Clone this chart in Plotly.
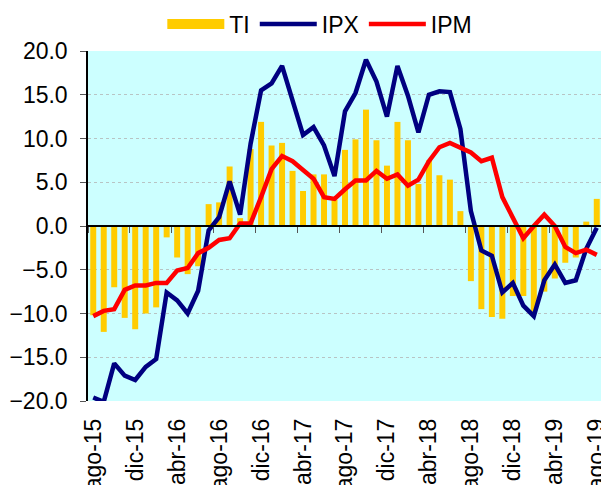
import plotly.graph_objects as go

months = [
    "ago-15", "sep-15", "oct-15", "nov-15", "dic-15", "ene-16", "feb-16", "mar-16",
    "abr-16", "may-16", "jun-16", "jul-16", "ago-16", "sep-16", "oct-16", "nov-16",
    "dic-16", "ene-17", "feb-17", "mar-17", "abr-17", "may-17", "jun-17", "jul-17",
    "ago-17", "sep-17", "oct-17", "nov-17", "dic-17", "ene-18", "feb-18", "mar-18",
    "abr-18", "may-18", "jun-18", "jul-18", "ago-18", "sep-18", "oct-18", "nov-18",
    "dic-18", "ene-19", "feb-19", "mar-19", "abr-19", "may-19", "jun-19", "jul-19",
    "ago-19",
]

ti = [-10.2, -12.1, -7.0, -10.5, -11.8, -10.0, -9.3, -1.3, -3.6, -5.5, -4.6, 2.5,
      2.7, 6.8, 0.9, 8.8, 11.9, 9.2, 9.5, 6.3, 4.0, 5.9, 5.9, 3.0,
      8.7, 9.9, 13.3, 9.8, 6.9, 11.9, 9.8, 4.8, 7.5, 5.8, 5.3, 1.7,
      -6.3, -9.5, -10.4, -10.6, -8.0, -8.0, -9.8, -7.5, -6.0, -4.2, -3.6, 0.5,
      3.1]

ipx = [-19.6, -20.1, -15.7, -17.1, -17.6, -16.1, -15.2, -7.6, -8.5, -10.0, -7.4, -0.5,
       1.0, 5.1, 1.3, 9.4, 15.5, 16.3, 18.3, 14.3, 10.4, 11.3, 9.2, 5.7,
       13.1, 15.2, 19.0, 16.5, 12.5, 18.3, 14.9, 10.7, 15.0, 15.4, 15.3, 11.1,
       1.7, -2.8, -3.4, -7.6, -6.5, -9.1, -10.3, -6.2, -4.4, -6.5, -6.2, -2.6,
       -0.2]

ipm = [-10.3, -9.7, -9.5, -7.3, -6.8, -6.8, -6.5, -6.5, -5.1, -4.8, -3.1, -2.5,
       -1.6, -1.4, 0.3, 0.3, 3.3, 6.5, 8.0, 7.4, 6.4, 5.4, 3.3, 3.1,
       4.2, 5.2, 5.2, 6.3, 5.4, 5.9, 4.6, 5.3, 7.4, 9.0, 9.5, 9.0,
       8.4, 7.4, 7.8, 3.3, 1.0, -1.4, 0.0, 1.3, 0.0, -2.4, -3.1, -2.7,
       -3.3]

tick_labels = months[::4]

FONT = "Liberation Sans, Arial, sans-serif"
YELLOW = "#FFCC00"

fig = go.Figure()
# legend proxy for TI (wide flat swatch like the original)
fig.add_trace(go.Scatter(x=[None], y=[None], name="TI", mode="lines", legendgroup="ti",
                         line=dict(color=YELLOW, width=15), hoverinfo="skip"))
fig.add_trace(go.Bar(x=months, y=ti, name="TI", legendgroup="ti", showlegend=False,
                     marker=dict(color=YELLOW, line=dict(width=0))))
fig.add_trace(go.Scatter(x=months, y=ipx, name="IPX", mode="lines",
                         line=dict(color="#000080", width=4.5)))
fig.add_trace(go.Scatter(x=months, y=ipm, name="IPM", mode="lines",
                         line=dict(color="#FF0000", width=4.5)))
# invisible helper trace so the zero-line axis knows the categories
fig.add_trace(go.Scatter(x=months, y=ti, xaxis="x2", mode="lines", opacity=0,
                         line=dict(width=0), showlegend=False, hoverinfo="skip"))

fig.update_layout(
    width=609, height=485,
    margin=dict(l=80, r=15, t=43, b=92, autoexpand=False),
    paper_bgcolor="white",
    plot_bgcolor="#CCFFFF",
    font=dict(family=FONT, size=23, color="black"),
    bargap=0.43,
    showlegend=True,
    legend=dict(orientation="h", x=0.451, xanchor="center", y=1.077, yanchor="middle",
                font=dict(size=23), itemwidth=57, tracegroupgap=0,
                bgcolor="rgba(0,0,0,0)"),
    xaxis=dict(
        type="category", categoryarray=months, range=[-0.5, 48.5],
        tickvals=tick_labels, ticktext=tick_labels, tickangle=-90,
        ticks="", showgrid=False, showline=False, zeroline=False,
        tickfont=dict(size=23), ticklabelstandoff=12, automargin=False,
    ),
    xaxis2=dict(
        type="category", categoryarray=months, range=[-0.5, 48.5],
        overlaying="x", anchor="free", position=0.5, side="bottom",
        showline=True, linecolor="black", linewidth=1.5,
        ticks="outside", ticklen=6, tickwidth=1, tickcolor="#555555",
        tickson="boundaries", tickvals=tick_labels,
        showticklabels=False, showgrid=False, zeroline=False, automargin=False,
    ),
    yaxis=dict(
        range=[-20, 20], dtick=5, tickformat=".1f",
        showline=True, linecolor="black", linewidth=1.5,
        ticks="outside", ticklen=6, tickcolor="#555555",
        showgrid=True, gridcolor="#B8C4C4", griddash="dot", gridwidth=1,
        zeroline=False, tickfont=dict(size=23), ticklabelstandoff=8,
        automargin=False,
    ),
)

fig.write_html("out.html")
